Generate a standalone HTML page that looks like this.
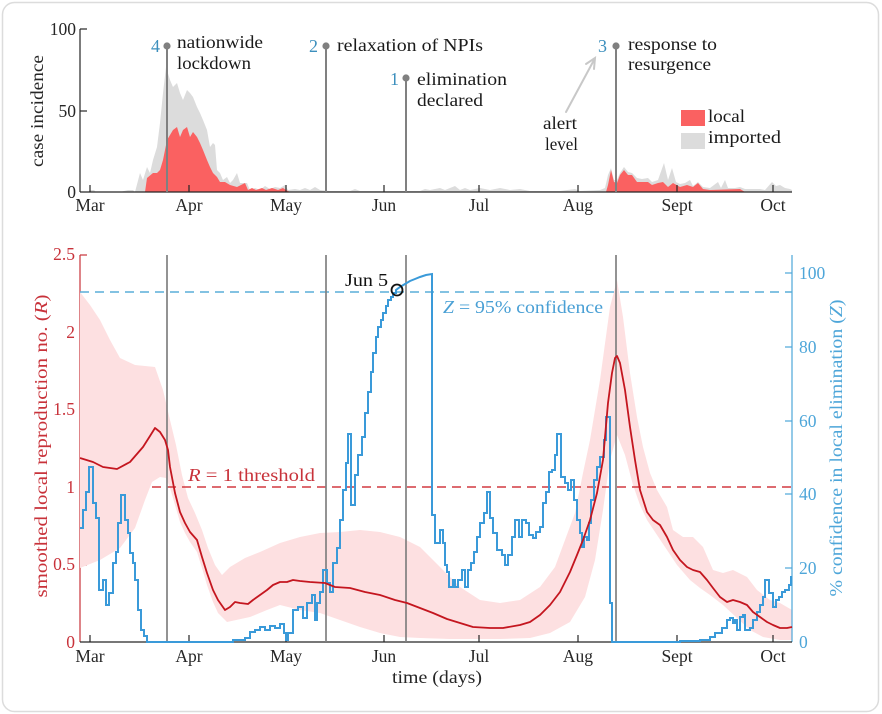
<!DOCTYPE html>
<html><head><meta charset="utf-8"><style>
html,body{margin:0;padding:0;background:#fff;}
svg{display:block;}
svg text{font-family:"Liberation Serif","DejaVu Serif",serif;}
</style></head><body>
<svg width="882" height="714" viewBox="0 0 882 714" xmlns="http://www.w3.org/2000/svg" font-family="'Liberation Serif', 'DejaVu Serif', serif">
<rect x="2.5" y="2.5" width="876" height="709" rx="12" fill="#fff" stroke="#dcdcdc" stroke-width="1.5"/>

<!-- ================= TOP PANEL ================= -->
<polygon fill="#dcdcdc" points="80,192 88,192 90,190 94,190 96,192 120,192 128,190 133,190 135,192 140,173 143,180 147,167 150,173 153,160 157,147 160,123 163,93 166,67 170,80 173,87 177,83 180,93 183,100 187,90 190,93 193,97 197,107 200,113 203,120 207,130 210,147 213,143 215,145 217,170 220,173 223,180 227,177 230,183 233,180 237,173 240,183 243,183 247,183 250,190 255,188 260,190 265,186 270,189 275,187 280,188 285,185 288,190 295,189 300,190 305,188 310,190 315,187 320,190 330,191 350,191 355,189 360,191 420,191 425,189 430,190 440,188 445,190 455,186 460,190 465,188 470,190 480,188 490,190 500,188 510,190 520,189 530,191 560,191 575,189 580,191 600,190 605,188 608,175 611,168 614,180 617,180 620,173 624,167 628,172 632,173 637,178 642,179 648,178 652,182 658,180 664,163 668,180 672,168 676,182 680,184 685,183 690,180 693,186 698,182 703,187 710,188 718,182 721,188 725,180 728,188 735,188 740,187 745,189 760,189 765,190 772,182 776,186 780,185 785,188 790,189 792,190 792,192"/>
<polygon fill="#fa6161" points="145,192 147,178 153,173 157,173 160,170 163,160 167,140 170,135 173,130 177,127 180,137 183,130 187,127 190,137 193,132 197,137 200,143 203,150 207,160 210,167 213,173 217,177 220,182 225,182 230,185 237,187 245,183 248,190 252,188 256,190 262,188 266,190 272,188 278,190 283,188 286,190 290,192"/>
<polygon fill="#fa6161" points="606,192 608,185 611,170 614,182 617,183 620,175 624,170 628,175 632,175 637,182 642,182 648,182 652,185 658,183 663,182 668,187 673,183 680,187 687,185 693,187 698,183 703,189 710,190 740,189 745,192"/>

<g stroke="#262626" stroke-width="1.2" fill="none">
<line x1="80" y1="29" x2="80" y2="192"/>
<line x1="80" y1="192" x2="792" y2="192"/>
<line x1="80" y1="29" x2="87" y2="29"/>
<line x1="80" y1="111" x2="87" y2="111"/>
<line x1="90" y1="192" x2="90" y2="185"/>
<line x1="189" y1="192" x2="189" y2="185"/>
<line x1="286" y1="192" x2="286" y2="185"/>
<line x1="384" y1="192" x2="384" y2="185"/>
<line x1="479" y1="192" x2="479" y2="185"/>
<line x1="578" y1="192" x2="578" y2="185"/>
<line x1="677" y1="192" x2="677" y2="185"/>
<line x1="773" y1="192" x2="773" y2="185"/>
</g>
<g font-size="17.5" fill="#262626" font-family="'Liberation Serif', serif">
<text x="76" y="35" text-anchor="end">100</text>
<text x="76" y="117" text-anchor="end">50</text>
<text x="76" y="198" text-anchor="end">0</text>
<g text-anchor="middle">
<text x="90" y="211">Mar</text>
<text x="189" y="211">Apr</text>
<text x="286" y="211">May</text>
<text x="384" y="211">Jun</text>
<text x="479" y="211">Jul</text>
<text x="578" y="211">Aug</text>
<text x="677" y="211">Sept</text>
<text x="773" y="211">Oct</text>
</g>
</g>
<text transform="translate(43,111) rotate(-90)" text-anchor="middle" font-size="18" fill="#262626" font-family="'Liberation Serif', serif" textLength="112" lengthAdjust="spacingAndGlyphs">case incidence</text>

<g stroke="#808080" stroke-width="2">
<line x1="167" y1="46" x2="167" y2="192"/>
<line x1="326" y1="46" x2="326" y2="192"/>
<line x1="406" y1="78" x2="406" y2="192"/>
<line x1="616" y1="46" x2="616" y2="192"/>
</g>
<g fill="#808080">
<circle cx="167" cy="46" r="3.6"/>
<circle cx="326" cy="46" r="3.6"/>
<circle cx="406" cy="78" r="3.6"/>
<circle cx="616" cy="46" r="3.6"/>
</g>
<g font-size="18" fill="#3c8fbd" font-family="'Liberation Serif', serif">
<text x="151" y="52">4</text>
<text x="309" y="52">2</text>
<text x="390" y="85">1</text>
<text x="598" y="52">3</text>
</g>
<g font-size="18" fill="#1a1a1a" font-family="'Liberation Serif', serif">
<text x="177" y="48" textLength="86" lengthAdjust="spacingAndGlyphs">nationwide</text>
<text x="177" y="69" textLength="74" lengthAdjust="spacingAndGlyphs">lockdown</text>
<text x="337" y="51" textLength="146" lengthAdjust="spacingAndGlyphs">relaxation of NPIs</text>
<text x="417" y="85" textLength="90" lengthAdjust="spacingAndGlyphs">elimination</text>
<text x="417" y="106" textLength="66" lengthAdjust="spacingAndGlyphs">declared</text>
<text x="628" y="50" textLength="89" lengthAdjust="spacingAndGlyphs">response to</text>
<text x="628" y="70" textLength="83" lengthAdjust="spacingAndGlyphs">resurgence</text>
<text x="543" y="129" textLength="34" lengthAdjust="spacingAndGlyphs">alert</text>
<text x="545" y="150" textLength="33" lengthAdjust="spacingAndGlyphs">level</text>
<text x="708" y="122" textLength="37" lengthAdjust="spacingAndGlyphs">local</text>
<text x="708" y="143" textLength="73" lengthAdjust="spacingAndGlyphs">imported</text>
</g>
<g stroke="#c8c8c8" stroke-width="2" fill="none" stroke-linecap="round">
<line x1="566" y1="112" x2="594" y2="60"/>
<polyline points="586,64 595,58 594,69"/>
</g>
<rect x="681" y="110" width="24" height="16" fill="#fa6161"/>
<rect x="681" y="133" width="24" height="16" fill="#dcdcdc"/>

<!-- ================= BOTTOM PANEL ================= -->
<g stroke="#c8323a" stroke-width="1.2">
<line x1="80" y1="255" x2="80" y2="642"/>
<line x1="80" y1="255" x2="87" y2="255"/>
<line x1="80" y1="332.5" x2="87" y2="332.5"/>
<line x1="80" y1="410" x2="87" y2="410"/>
<line x1="80" y1="487.5" x2="87" y2="487.5"/>
<line x1="80" y1="565" x2="87" y2="565"/>
</g>

<polygon fill="#fde0e1" points="80,292 90,305 100,320 110,340 120,358 135,365 155,367 163,390 170,420 176,445 182,475 188,498 195,513 202,530 208,548 215,565 222,575 230,567 245,558 260,552 280,543 300,537 320,533 340,532 360,530 380,532 400,537 420,547 440,567 460,587 480,600 500,603 520,600 540,587 555,567 565,540 575,513 583,473 590,440 600,380 610,307 617,280 623,317 630,373 637,417 643,447 650,473 657,490 667,507 673,530 683,537 693,537 703,547 713,570 723,573 733,570 747,577 757,590 770,600 780,603 792,610 792,640 780,640 763,637 750,630 737,618 723,605 710,595 700,588 690,580 677,565 667,550 657,535 647,520 640,505 633,485 625,455 617,435 610,460 603,510 595,560 585,597 570,622 550,633 530,638 500,639 450,639 420,638 400,637 380,633 360,627 340,620 320,613 300,610 280,605 267,610 250,617 227,622 218,613 213,602 207,585 202,568 197,552 190,542 185,533 180,522 175,505 170,488 166,478 160,477 152,482 145,500 135,528 120,548 100,560 80,568"/>

<g stroke="#4ea6d9" stroke-width="1.2">
<line x1="792" y1="255" x2="792" y2="642"/>
<line x1="792" y1="273" x2="785" y2="273"/>
<line x1="792" y1="347" x2="785" y2="347"/>
<line x1="792" y1="421" x2="785" y2="421"/>
<line x1="792" y1="494" x2="785" y2="494"/>
<line x1="792" y1="568" x2="785" y2="568"/>
</g>

<g stroke="#262626" stroke-width="1.2">
<line x1="80" y1="642" x2="792" y2="642"/>
<line x1="90" y1="642" x2="90" y2="635"/>
<line x1="189" y1="642" x2="189" y2="635"/>
<line x1="286" y1="642" x2="286" y2="635"/>
<line x1="384" y1="642" x2="384" y2="635"/>
<line x1="479" y1="642" x2="479" y2="635"/>
<line x1="578" y1="642" x2="578" y2="635"/>
<line x1="677" y1="642" x2="677" y2="635"/>
<line x1="773" y1="642" x2="773" y2="635"/>
</g>

<line x1="80" y1="292" x2="792" y2="292" stroke="#5aaed8" stroke-width="1.4" stroke-dasharray="9,6"/>
<line x1="152" y1="487" x2="792" y2="487" stroke="#d23a40" stroke-width="1.4" stroke-dasharray="9,6"/>

<g stroke="#808080" stroke-width="1.7">
<line x1="167" y1="255" x2="167" y2="642"/>
<line x1="326" y1="255" x2="326" y2="642"/>
<line x1="406" y1="255" x2="406" y2="642"/>
<line x1="616" y1="255" x2="616" y2="642"/>
</g>

<path fill="none" stroke="#3a9ad9" stroke-width="2" stroke-linejoin="miter" d="M80,528 H83 V510 H86 V492 H89 V467 H93 V503 H96 V518 H99 V590 H103 V580 H106 V605 H109 V593 H113 V563 H116 V552 H118 V523 H121 V495 H125 V520 H128 V533 H130 V553 H133 V563 H135 V580 H138 V610 H141 V630 H144 V636 H147 V642 H233 V640 H245 V638 H250 V632 H255 V630 H260 V627 H265 V630 H270 V626 H275 V628 H280 V624 H284 V633 H286 V640 H288 V633 H293 V610 H298 V607 H303 V618 H307 V603 H312 V595 H315 V620 H317 V603 H320 V592 H323 V570 H327 V583 H330 V592 H333 V563 H337 V548 H340 V520 H343 V490 H346 V463 H348 V434 H351 V505 H355 V475 H358 V455 H362 V437 H365 V413 H368 V392 H371 V372 H373 V353 H376 V337 H378 V327 H381 V320 H383 V313 H386 V306 H388 V300 H391 V297 H393 V293 H396 V290 L400,287 L405,284 L410,281 L415,279 L420,277 L426,275 L432,274 V515 H435 V543 H440 V530 H443 V543 H445 V565 H447 V572 H449 V587 H453 V580 H455 V587 H458 V580 H462 V570 H465 V587 H468 V570 H471 V563 H474 V552 H477 V537 H480 V523 H484 V513 H487 V492 H490 V518 H493 V533 H497 V550 H502 V555 H505 V565 H508 V555 H512 V537 H515 V520 H519 V537 H522 V520 H526 V523 H529 V535 H533 V538 H536 V532 H540 V527 H543 V503 H546 V492 H549 V472 H552 V470 H555 V455 H557 V434 H561 V477 H565 V483 H568 V490 H571 V480 H574 V500 H577 V520 H580 V533 H582 V547 H584 V537 H587 V540 H589 V523 H591 V500 H594 V480 H597 V467 H600 V457 H604 V440 H606 V417 H610 V603 H612 V642 H680 V641 H700 V640 H710 V637 H715 V633 H722 V628 H727 V620 H730 V618 H733 V623 H735 V620 H737 V630 H740 V617 H743 V615 H745 V630 H750 V628 H753 V620 H757 V612 H760 V605 H763 V597 H765 V580 H769 V593 H773 V607 H776 V600 H779 V597 H782 V592 H785 V590 H789 V585 H791 V577 H792"/>

<polyline fill="none" stroke="#c4161f" stroke-width="1.8" stroke-linejoin="round" points="80,458 93,462 103,467 117,469 130,462 143,447 150,436 155,428 160,432 165,440 168,450 170,467 175,493 180,512 185,523 190,532 197,540 202,557 207,573 213,590 218,600 225,610 230,607 235,602 240,603 248,604 253,600 260,595 267,590 273,585 280,582 287,582 293,580 300,581 310,582 325,583 335,587 350,588 365,592 380,595 395,600 407,603 420,608 433,613 447,619 460,623 473,627 490,628 503,628 520,625 530,622 540,615 550,605 560,592 570,572 577,555 583,540 590,520 597,493 603,460 608,403 612,373 615,358 617,356 620,363 625,390 630,427 635,460 640,490 647,512 653,520 660,525 667,537 673,550 680,560 687,567 693,570 700,572 707,580 713,588 720,597 727,602 733,600 740,602 747,605 753,612 760,617 767,622 773,625 780,628 787,628 792,627"/>

<circle cx="397" cy="290" r="5.5" fill="none" stroke="#111" stroke-width="1.8"/>
<text x="345" y="286" font-size="17.5" fill="#111" font-family="'Liberation Serif', serif" textLength="43" lengthAdjust="spacingAndGlyphs">Jun 5</text>

<text x="443" y="313" font-size="18" fill="#4aa0d5" font-family="'Liberation Serif', serif" textLength="160" lengthAdjust="spacingAndGlyphs"><tspan font-style="italic">Z</tspan> = 95% confidence</text>
<text x="188" y="481" font-size="18" fill="#c8323a" font-family="'Liberation Serif', serif" textLength="127" lengthAdjust="spacingAndGlyphs"><tspan font-style="italic">R</tspan> = 1 threshold</text>

<g font-size="17.5" fill="#c8323a" text-anchor="end" font-family="'Liberation Serif', serif">
<text x="75" y="260">2.5</text>
<text x="75" y="338">2</text>
<text x="75" y="415">1.5</text>
<text x="75" y="493">1</text>
<text x="75" y="570">0.5</text>
<text x="75" y="648">0</text>
</g>
<g font-size="17.5" fill="#4ea6d9" font-family="'Liberation Serif', serif">
<text x="799" y="279">100</text>
<text x="799" y="353">80</text>
<text x="799" y="427">60</text>
<text x="799" y="500">40</text>
<text x="799" y="574">20</text>
<text x="799" y="648">0</text>
</g>
<g font-size="17.5" fill="#262626" text-anchor="middle" font-family="'Liberation Serif', serif">
<text x="90" y="662">Mar</text>
<text x="189" y="662">Apr</text>
<text x="286" y="662">May</text>
<text x="384" y="662">Jun</text>
<text x="479" y="662">Jul</text>
<text x="578" y="662">Aug</text>
<text x="677" y="662">Sept</text>
<text x="773" y="662">Oct</text>
</g>
<text x="437" y="683" font-size="18" fill="#262626" text-anchor="middle" font-family="'Liberation Serif', serif" textLength="90" lengthAdjust="spacingAndGlyphs">time (days)</text>

<text transform="translate(47,446) rotate(-90)" text-anchor="middle" font-size="18" fill="#c8323a" font-family="'Liberation Serif', serif" textLength="303" lengthAdjust="spacingAndGlyphs">smoothed local reproduction no. (<tspan font-style="italic">R</tspan>)</text>
<text transform="translate(842,448) rotate(-90)" text-anchor="middle" font-size="18" fill="#4ea6d9" font-family="'Liberation Serif', serif" textLength="297" lengthAdjust="spacingAndGlyphs">% confidence in local elimination (<tspan font-style="italic">Z</tspan>)</text>
</svg>
</body></html>
